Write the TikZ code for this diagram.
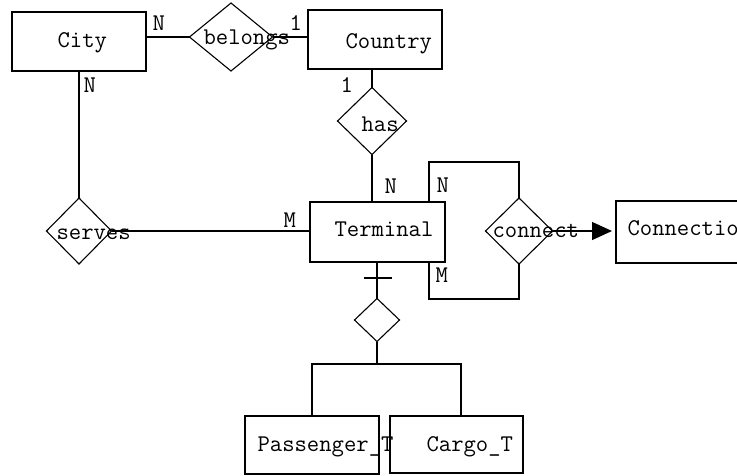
\documentclass[tikz,border=0pt]{standalone}
\usepackage{fontspec}
\usetikzlibrary{arrows.meta, shapes.geometric}
\tikzset{ent/.style = {draw, rectangle, line width=1.1pt, inner sep=0pt, outer sep=0pt, anchor=north west}}
\tikzset{rel/.style = {draw, diamond, line width=1.1pt, inner sep=0pt, outer sep=0pt}}
\tikzset{txt/.style = {anchor=base west, inner sep=0pt, font=\ttfamily\fontsize{24}{28}\selectfont}}

\begin{document}
\begin{tikzpicture}[x=1pt, y=-1pt, line width=1.1pt]
\useasboundingbox (0,0) rectangle (737,475);
\clip (0,0) rectangle (737,475);
\node[ent, minimum width=134, minimum height=59] (city) at (12,12) {};
\node[ent, minimum width=134, minimum height=59] (country) at (308,10) {};
\node[ent, minimum width=135, minimum height=60] (terminal) at (310,202) {};
\node[ent, minimum width=134, minimum height=62] (connection) at (616,201) {};
\node[ent, minimum width=134, minimum height=58] (passenger) at (245,416) {};
\node[ent, minimum width=133, minimum height=57] (cargo) at (390,416) {};
\node[rel, minimum width=83, minimum height=68] (belongs) at (231,37) {};
\node[rel, minimum width=69, minimum height=67] (has) at (372,121) {};
\node[rel, minimum width=65, minimum height=66] (serves) at (79,231) {};
\node[rel, minimum width=67, minimum height=66] (connect) at (519,231) {};
\node[rel, minimum width=45, minimum height=43] (isa) at (377,320) {};
\coordinate (tick) at (378,278);
\coordinate (split) at (377,364);
\draw (belongs.west) -- (belongs.west -| city.east);
\draw (belongs.east) -- (belongs.east -| country.west);
\draw (serves.north) -- (serves.north |- city.south);
\draw (has.north) -- (has.north |- country.south);
\draw (has.south) -- (has.south |- terminal.north);
\draw (serves.east) -- (serves.east -| terminal.west);
\draw ([xshift=-16pt]terminal.north east) |- ([yshift=36pt]connect.north) -- (connect.north);
\draw ([xshift=-16pt]terminal.south east) |- ([yshift=-35pt]connect.south) -- (connect.south);
\draw[-{Triangle[length=20pt, width=18pt]}, shorten >=4pt] (connect.east) -- (connect.east -| connection.west);
\draw (isa.north) -- (isa.north |- terminal.south);
\draw ([xshift=-14pt]tick) -- ([xshift=14pt]tick);
\draw (isa.south) -- (split);
\draw (passenger.north) |- (split) -| ([xshift=4.5pt]cargo.north);
\node[txt] (tcity) at (57,47) {City};
\node[txt] (tcountry) at (345,48) {Country};
\node[txt] (tbelongs) at (203,44) {belongs};
\node[txt] (thas) at (361,131) {has};
\node[txt] (tterminal) at (334,236) {Terminal};
\node[txt] (tconnect) at (492,237) {connect};
\node[txt] (tconnection) at (627,235) {Connection};
\node[txt] (tserves) at (56,239) {serves};
\node[txt] (tpassenger) at (257,451) {Passenger\_T};
\node[txt] (tcargo) at (426,451) {Cargo\_T};
\node[txt] (n1) at (152,30) {N};
\node[txt] (c1) at (289,30) {1};
\node[txt] (n2) at (83,92) {N};
\node[txt] (c2) at (340,92) {1};
\node[txt] (n3) at (384,193) {N};
\node[txt] (n4) at (436,192) {N};
\node[txt] (m1) at (435,282) {M};
\node[txt] (m2) at (283,227) {M};
\end{tikzpicture}
\end{document}
